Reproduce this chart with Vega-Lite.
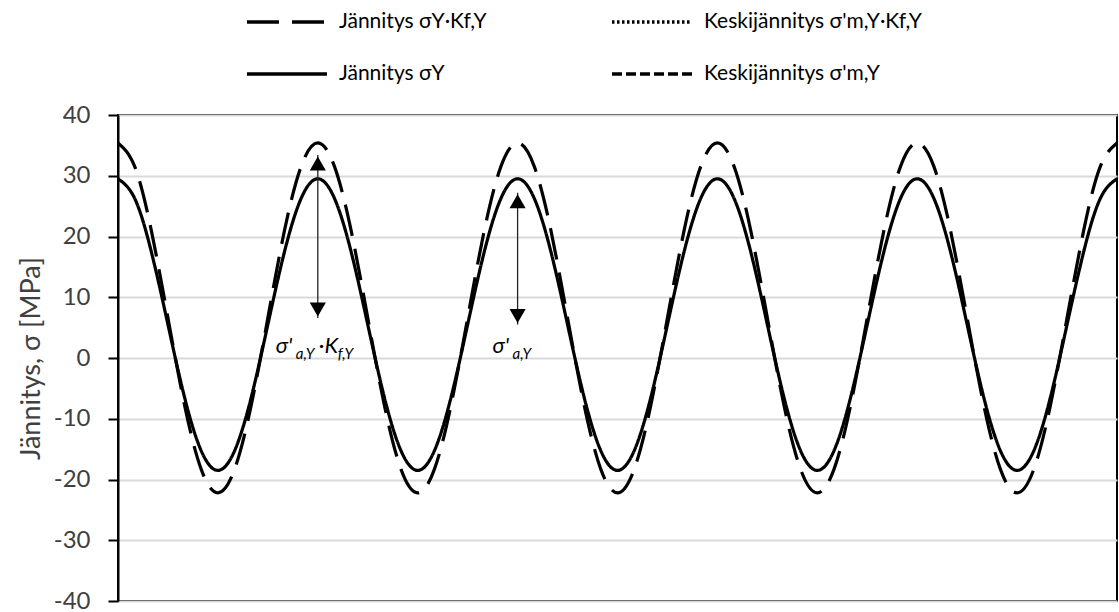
{
  "$schema": "https://vega.github.io/schema/vega-lite/v6.json",
  "width": 999,
  "height": 486,
  "autosize": {"type": "none"},
  "padding": {"left": 118, "top": 115, "right": 2, "bottom": 11},
  "background": "white",
  "config": {
    "view": {"stroke": "black", "strokeWidth": 2},
    "font": "Lato",
    "legend": {
      "orient": "none",
      "direction": "horizontal",
      "legendX": 127,
      "legendY": -135,
      "columns": 2,
      "symbolType": "stroke",
      "symbolSize": 6400,
      "symbolStrokeWidth": 3.5,
      "symbolStrokeColor": "black",
      "labelFontSize": 21,
      "labelFont": "Lato",
      "labelColor": "black",
      "labelOffset": 10,
      "rowPadding": -28,
      "columnPadding": 118,
      "padding": 0,
      "title": null,
      "labelLimit": 400
    }
  },
  "datasets": {
    "curve": [
      {"t": 0, "s": 29.5, "sk": 35.4}, {"t": 1, "s": 26.28, "sk": 31.54}, {"t": 2, "s": 17.5, "sk": 21.0}, {"t": 3, "s": 5.5, "sk": 6.6}, {"t": 4, "s": -6.5, "sk": -7.8}, {"t": 5, "s": -15.28, "sk": -18.34}, {"t": 6, "s": -18.5, "sk": -22.2}, {"t": 7, "s": -15.28, "sk": -18.34}, {"t": 8, "s": -6.5, "sk": -7.8}, {"t": 9, "s": 5.5, "sk": 6.6}, {"t": 10, "s": 17.5, "sk": 21.0}, {"t": 11, "s": 26.28, "sk": 31.54},
      {"t": 12, "s": 29.5, "sk": 35.4}, {"t": 13, "s": 26.28, "sk": 31.54}, {"t": 14, "s": 17.5, "sk": 21.0}, {"t": 15, "s": 5.5, "sk": 6.6}, {"t": 16, "s": -6.5, "sk": -7.8}, {"t": 17, "s": -15.28, "sk": -18.34}, {"t": 18, "s": -18.5, "sk": -22.2}, {"t": 19, "s": -15.28, "sk": -18.34}, {"t": 20, "s": -6.5, "sk": -7.8}, {"t": 21, "s": 5.5, "sk": 6.6}, {"t": 22, "s": 17.5, "sk": 21.0}, {"t": 23, "s": 26.28, "sk": 31.54},
      {"t": 24, "s": 29.5, "sk": 35.4}, {"t": 25, "s": 26.28, "sk": 31.54}, {"t": 26, "s": 17.5, "sk": 21.0}, {"t": 27, "s": 5.5, "sk": 6.6}, {"t": 28, "s": -6.5, "sk": -7.8}, {"t": 29, "s": -15.28, "sk": -18.34}, {"t": 30, "s": -18.5, "sk": -22.2}, {"t": 31, "s": -15.28, "sk": -18.34}, {"t": 32, "s": -6.5, "sk": -7.8}, {"t": 33, "s": 5.5, "sk": 6.6}, {"t": 34, "s": 17.5, "sk": 21.0}, {"t": 35, "s": 26.28, "sk": 31.54},
      {"t": 36, "s": 29.5, "sk": 35.4}, {"t": 37, "s": 26.28, "sk": 31.54}, {"t": 38, "s": 17.5, "sk": 21.0}, {"t": 39, "s": 5.5, "sk": 6.6}, {"t": 40, "s": -6.5, "sk": -7.8}, {"t": 41, "s": -15.28, "sk": -18.34}, {"t": 42, "s": -18.5, "sk": -22.2}, {"t": 43, "s": -15.28, "sk": -18.34}, {"t": 44, "s": -6.5, "sk": -7.8}, {"t": 45, "s": 5.5, "sk": 6.6}, {"t": 46, "s": 17.5, "sk": 21.0}, {"t": 47, "s": 26.28, "sk": 31.54},
      {"t": 48, "s": 29.5, "sk": 35.4}, {"t": 49, "s": 26.28, "sk": 31.54}, {"t": 50, "s": 17.5, "sk": 21.0}, {"t": 51, "s": 5.5, "sk": 6.6}, {"t": 52, "s": -6.5, "sk": -7.8}, {"t": 53, "s": -15.28, "sk": -18.34}, {"t": 54, "s": -18.5, "sk": -22.2}, {"t": 55, "s": -15.28, "sk": -18.34}, {"t": 56, "s": -6.5, "sk": -7.8}, {"t": 57, "s": 5.5, "sk": 6.6}, {"t": 58, "s": 17.5, "sk": 21.0}, {"t": 59, "s": 26.28, "sk": 31.54},
      {"t": 60, "s": 29.5, "sk": 35.4}
    ],
    "arrows": [
      {"t": 12, "lo": 6.6, "hi": 33.4},
      {"t": 24, "lo": 5.5, "hi": 27.2}
    ],
    "headsUp": [
      {"t": 12, "y": 32.0},
      {"t": 24, "y": 25.8}
    ],
    "headsDown": [
      {"t": 12, "y": 8.0},
      {"t": 24, "y": 6.9}
    ]
  },
  "encoding": {
    "x": {"field": "t", "type": "quantitative", "scale": {"domain": [0, 60], "nice": false, "zero": false}, "axis": null}
  },
  "layer": [
    {
      "data": {"name": "curve"},
      "mark": {"type": "line", "color": "black", "strokeWidth": 3.2, "interpolate": "natural"},
      "encoding": {
        "y": {"field": "sk", "type": "quantitative", "scale": {"domain": [-40, 40], "nice": false},
          "axis": {"values": [-40, -30, -20, -10, 0, 10, 20, 30, 40], "labelExpr": "toString(datum.value)", "title": "Jännitys, σ [MPa]", "titleFontSize": 27, "titleFontWeight": "normal", "titleColor": "#404040", "titleFont": "Lato", "titlePadding": 8,
            "labelFontSize": 24, "labelColor": "#404040", "labelFont": "Lato", "labelPadding": 18,
            "domainColor": "black", "domainWidth": 2, "tickColor": "black", "tickWidth": 2, "tickSize": 10,
            "gridColor": "#d9d9d9", "gridWidth": 2}},
        "strokeDash": {"datum": "Jännitys σY·Kf,Y", "type": "nominal",
          "scale": {"domain": ["Jännitys σY·Kf,Y", "Keskijännitys σ'm,Y·Kf,Y", "Jännitys σY", "Keskijännitys σ'm,Y"],
                    "range": [[32, 13], [2.5, 2.5], [1, 0], [10, 4]]}}
      }
    },
    {
      "data": {"name": "curve"},
      "mark": {"type": "line", "color": "black", "strokeWidth": 3.2, "interpolate": "natural"},
      "encoding": {
        "y": {"field": "s", "type": "quantitative"},
        "strokeDash": {"datum": "Jännitys σY", "type": "nominal"}
      }
    },
    {
      "mark": {"type": "rule", "color": "black", "strokeWidth": 2.5},
      "encoding": {
        "y": {"datum": 6.6, "type": "quantitative"},
        "strokeDash": {"datum": "Keskijännitys σ'm,Y·Kf,Y", "type": "nominal"}
      }
    },
    {
      "mark": {"type": "rule", "color": "black", "strokeWidth": 3.2},
      "encoding": {
        "y": {"datum": 5.5, "type": "quantitative"},
        "strokeDash": {"datum": "Keskijännitys σ'm,Y", "type": "nominal"}
      }
    },
    {
      "data": {"name": "arrows"},
      "mark": {"type": "rule", "color": "#222", "strokeWidth": 1.3},
      "encoding": {
        "y": {"field": "lo", "type": "quantitative"},
        "y2": {"field": "hi"}
      }
    },
    {
      "data": {"name": "headsUp"},
      "mark": {"type": "point", "shape": "triangle-up", "filled": true, "color": "black", "size": 260, "opacity": 1},
      "encoding": {"y": {"field": "y", "type": "quantitative"}}
    },
    {
      "data": {"name": "headsDown"},
      "mark": {"type": "point", "shape": "triangle-down", "filled": true, "color": "black", "size": 260, "opacity": 1},
      "encoding": {"y": {"field": "y", "type": "quantitative"}}
    },
    {
      "data": {"values": [{"t": 12, "y": 0.8, "txt": "σ'"}]},
      "mark": {"type": "text", "font": "Lato", "fontSize": 22, "fontStyle": "italic", "align": "left", "baseline": "alphabetic", "dx": -42, "color": "black"},
      "encoding": {"y": {"field": "y", "type": "quantitative"}, "text": {"field": "txt"}}
    },
    {
      "data": {"values": [{"t": 12, "y": 0.8, "txt": "a,Y"}]},
      "mark": {"type": "text", "font": "Lato", "fontSize": 15, "fontStyle": "italic", "align": "left", "baseline": "alphabetic", "dx": -22, "dy": 6, "color": "black"},
      "encoding": {"y": {"field": "y", "type": "quantitative"}, "text": {"field": "txt"}}
    },
    {
      "data": {"values": [{"t": 12, "y": 0.8, "txt": "·K"}]},
      "mark": {"type": "text", "font": "Lato", "fontSize": 22, "fontStyle": "italic", "align": "left", "baseline": "alphabetic", "dx": 1, "color": "black"},
      "encoding": {"y": {"field": "y", "type": "quantitative"}, "text": {"field": "txt"}}
    },
    {
      "data": {"values": [{"t": 12, "y": 0.8, "txt": "f,Y"}]},
      "mark": {"type": "text", "font": "Lato", "fontSize": 15, "fontStyle": "italic", "align": "left", "baseline": "alphabetic", "dx": 20, "dy": 6, "color": "black"},
      "encoding": {"y": {"field": "y", "type": "quantitative"}, "text": {"field": "txt"}}
    },
    {
      "data": {"values": [{"t": 24, "y": 0.8, "txt": "σ'"}]},
      "mark": {"type": "text", "font": "Lato", "fontSize": 22, "fontStyle": "italic", "align": "left", "baseline": "alphabetic", "dx": -25, "color": "black"},
      "encoding": {"y": {"field": "y", "type": "quantitative"}, "text": {"field": "txt"}}
    },
    {
      "data": {"values": [{"t": 24, "y": 0.8, "txt": "a,Y"}]},
      "mark": {"type": "text", "font": "Lato", "fontSize": 15, "fontStyle": "italic", "align": "left", "baseline": "alphabetic", "dx": -5, "dy": 6, "color": "black"},
      "encoding": {"y": {"field": "y", "type": "quantitative"}, "text": {"field": "txt"}}
    }
  ]
}
